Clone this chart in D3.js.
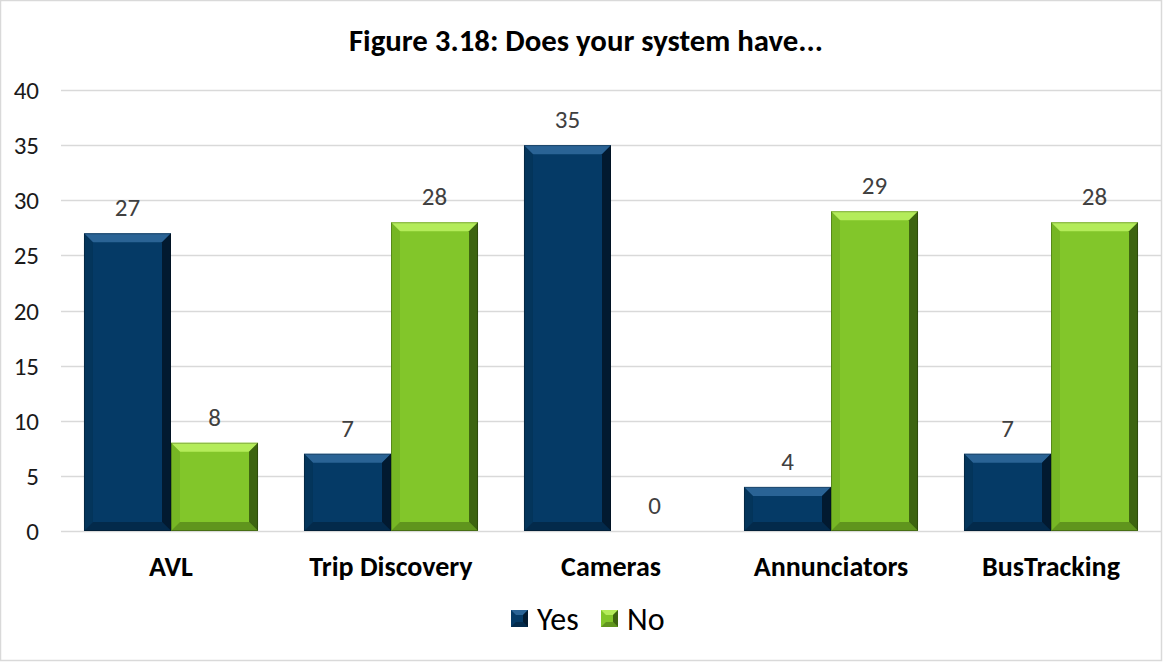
<!DOCTYPE html>
<html><head><meta charset="utf-8">
<script src="https://cdn.jsdelivr.net/npm/d3@7"></script>
<style>body{margin:0;background:#fff}svg{display:block}</style>
</head><body>
<svg id="c" width="1163" height="662"></svg>
<script>
const categories = ["AVL","Trip Discovery","Cameras","Annunciators","BusTracking"];
const seriesNames = ["Yes","No"];
const yesValues = [27,7,35,4,7];
const noValues = [8,28,0,29,28];
const yTicks = [0,5,10,15,20,25,30,35,40];
const title = "Figure 3.18: Does your system have...";

const colors = {Yes:{base:"#053a66", light:"#2a6395", dark:"#021a30", mid:"#04304f"},
                No:{base:"#82c62a", light:"#b4ec5a", dark:"#3d6410", mid:"#6aa61e"}};
const font = "Calibri, Carlito, 'Liberation Sans', Arial, sans-serif";
const svg = d3.select("#c");
const W=1163,H=662;
svg.append("rect").attr("x",0.5).attr("y",0.5).attr("width",W-2).attr("height",H-2)
  .attr("fill","#fff").attr("stroke","#d9d9d9").attr("stroke-width",1.5);

const x0 = d3.scaleBand().domain(categories).range([61,1161]).padding(0);
const x1 = d3.scaleBand().domain(seriesNames).range([0,x0.bandwidth()]).paddingInner(0).paddingOuter(0.264);
const y = d3.scaleLinear().domain([0,40]).range([531,90]);

// gridlines
svg.append("g").selectAll("line").data(yTicks).join("line")
  .attr("x1",61).attr("x2",1161).attr("y1",d=>Math.round(y(d))+0.5).attr("y2",d=>Math.round(y(d))+0.5)
  .attr("stroke","#d9d9d9").attr("stroke-width",1.5);

// y axis labels
const yAxis = d3.axisLeft(y).tickValues(yTicks).tickSize(0).tickPadding(0);
const ga = svg.append("g").attr("transform","translate(39,0)").call(yAxis);
ga.select(".domain").remove();
ga.selectAll("text").attr("font-family",font).attr("font-size",25).attr("fill","#1a1a1a").attr("dy","0.34em");

// bars with bevel
function bevelBar(g, xL, w, yT, h, c){
  if(h<=0) return;
  const b = Math.min(9, h/2, w/2);
  const xR=xL+w, yB=yT+h;
  g.append("rect").attr("x",xL).attr("y",yT).attr("width",w).attr("height",h).attr("fill",c.base);
  g.append("polygon").attr("points",[[xL,yT],[xR,yT],[xR-b,yT+b],[xL+b,yT+b]].join(" ")).attr("fill",c.light);
  g.append("polygon").attr("points",[[xL,yT],[xL+b,yT+b],[xL+b,yB-b],[xL,yB]].join(" ")).attr("fill",c.mid).attr("opacity",0.5);
  g.append("polygon").attr("points",[[xR,yT],[xR,yB],[xR-b,yB-b],[xR-b,yT+b]].join(" ")).attr("fill",c.dark);
  g.append("polygon").attr("points",[[xL,yB],[xR,yB],[xR-b,yB-b],[xL+b,yB-b]].join(" ")).attr("fill",c.dark).attr("opacity",0.5);
  g.append("rect").attr("x",xL+0.5).attr("y",yT+0.5).attr("width",w-1).attr("height",h-1).attr("fill","none").attr("stroke","rgba(0,0,0,0.25)").attr("stroke-width",1);
}

const data = categories.map((c,i)=>({cat:c, vals:[{s:"Yes",v:yesValues[i]},{s:"No",v:noValues[i]}]}));
const gBars = svg.append("g");
data.forEach(d=>{
  d.vals.forEach(e=>{
    const xL = x0(d.cat)+x1(e.s);
    bevelBar(gBars, xL, x1.bandwidth(), y(e.v), y(0)-y(e.v), colors[e.s]);
    gBars.append("text").attr("x",xL+x1.bandwidth()/2).attr("y",y(e.v)-17)
      .attr("text-anchor","middle").attr("font-family",font).attr("font-size",25).attr("fill","#404040").text(e.v);
  });
});

// category labels
svg.append("g").selectAll("text").data(categories).join("text")
  .attr("x",d=>x0(d)+x0.bandwidth()/2).attr("y",576).attr("text-anchor","middle")
  .attr("font-family",font).attr("font-size",28).attr("font-weight","bold").attr("fill","#000").text(d=>d);

// title
svg.append("text").attr("x",586).attr("y",51).attr("text-anchor","middle")
  .attr("font-family",font).attr("font-size",30.8).attr("font-weight","bold").attr("fill","#000").text(title);

// legend
const legendX = [511, 601];
seriesNames.forEach((s,i)=>{
  const g = svg.append("g");
  const lx = legendX[i], ly=610, sz=17, c=colors[s];
  g.append("rect").attr("x",lx).attr("y",ly).attr("width",sz).attr("height",sz).attr("fill",c.base);
  const b=5;
  g.append("polygon").attr("points",[[lx,ly],[lx+sz,ly],[lx+sz-b,ly+b],[lx+b,ly+b]].join(" ")).attr("fill",c.light);
  g.append("polygon").attr("points",[[lx+sz,ly],[lx+sz,ly+sz],[lx+sz-b,ly+sz-b],[lx+sz-b,ly+b]].join(" ")).attr("fill",c.dark);
  g.append("polygon").attr("points",[[lx,ly+sz],[lx+sz,ly+sz],[lx+sz-b,ly+sz-b],[lx+b,ly+sz-b]].join(" ")).attr("fill",c.dark).attr("opacity",0.5);
  g.append("text").attr("x",lx+26).attr("y",630).attr("font-family",font).attr("font-size",32).attr("fill","#000").text(s);
});
</script>
</body></html>
